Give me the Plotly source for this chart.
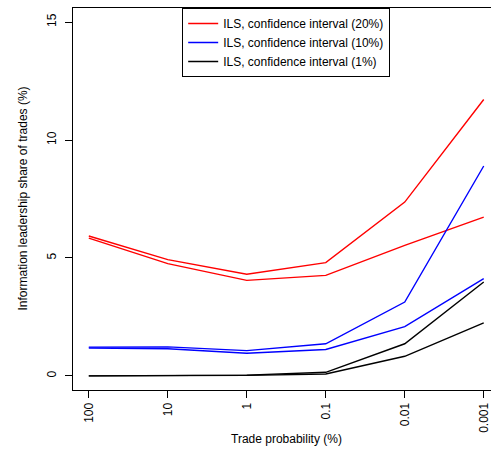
import plotly.graph_objects as go

# Trade probability categories (%), plotted at evenly spaced positions
trade_prob_labels = ["100", "10", "1", "0.1", "0.01", "0.001"]
positions = [1, 2, 3, 4, 5, 6]

# Confidence-interval bounds of the information leadership share (%)
ci20_upper = [5.93, 4.93, 4.31, 4.80, 7.37, 11.72]
ci20_lower = [5.84, 4.76, 4.05, 4.26, 5.53, 6.73]
ci10_upper = [1.22, 1.23, 1.07, 1.36, 3.13, 8.90]
ci10_lower = [1.18, 1.15, 0.96, 1.12, 2.09, 4.12]
ci01_upper = [0.00, 0.02, 0.03, 0.15, 1.36, 3.98]
ci01_lower = [0.00, 0.01, 0.02, 0.08, 0.83, 2.25]

series = [
    ("ILS, confidence interval (20%)", "#FF0000", ci20_upper, ci20_lower),
    ("ILS, confidence interval (10%)", "#0000FF", ci10_upper, ci10_lower),
    ("ILS, confidence interval (1%)", "#000000", ci01_upper, ci01_lower),
]

FONT = "Liberation Sans, Arial, Helvetica, sans-serif"

fig = go.Figure()
for name, color, upper, lower in series:
    for i, vals in enumerate((upper, lower)):
        fig.add_trace(go.Scatter(
            x=positions, y=vals, mode="lines",
            line=dict(color=color, width=1.4),
            name=name, legendgroup=name, showlegend=(i == 0),
        ))

fig.update_layout(
    width=491, height=453,
    margin=dict(l=72.5, r=0, t=7.5, b=63),
    paper_bgcolor="white", plot_bgcolor="white",
    font=dict(family=FONT, size=12, color="black"),
    showlegend=True,
    legend=dict(
        x=0.51, xanchor="center", y=1, yanchor="top",
        bordercolor="black", borderwidth=1, bgcolor="white",
        font=dict(size=12), tracegroupgap=0,
    ),
    xaxis=dict(
        range=[0.8, 6.092], tickvals=positions, ticktext=trade_prob_labels,
        tickangle=-90, ticks="outside", ticklen=7, tickcolor="black",
        showline=True, linecolor="black", linewidth=1, mirror=True,
        showgrid=False, zeroline=False,
    ),
    yaxis=dict(
        range=[-0.6, 15.6], tickvals=[0, 5, 10, 15],
        tickangle=-90, ticks="outside", ticklen=7, tickcolor="black",
        ticklabelstandoff=4,
        showline=True, linecolor="black", linewidth=1,
        showgrid=False, zeroline=False,
    ),
    annotations=[
        dict(text="Trade probability (%)", xref="paper", yref="paper",
             x=0.51, y=-0.128, xanchor="center", yanchor="middle",
             showarrow=False, font=dict(size=12)),
        dict(text="Information leadership share of trades (%)",
             xref="paper", yref="paper", x=-0.1207, y=0.5,
             xanchor="center", yanchor="middle", textangle=-90,
             showarrow=False, font=dict(size=12)),
    ],
)

fig.write_html("out.html")
